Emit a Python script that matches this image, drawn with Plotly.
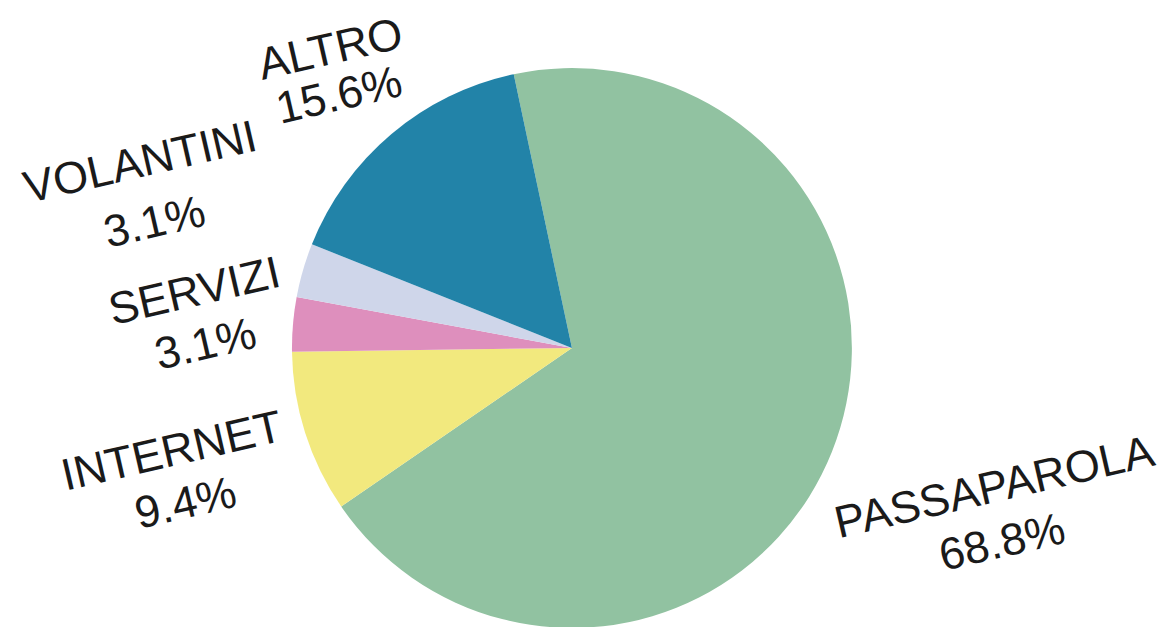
import plotly.graph_objects as go

# data
labels = ["PASSAPAROLA", "INTERNET", "SERVIZI", "VOLANTINI", "ALTRO"]
counts = [22, 3, 1, 1, 5]
colors = ["#91c2a1", "#f2e97e", "#de8fbd", "#cfd6ea", "#2283a8"]
pct_text = ["68.8%", "9.4%", "3.1%", "3.1%", "15.6%"]

# label line centres in pixels (x, y from top): name line, percent line
name_pos = {
    "PASSAPAROLA": (986, 478),
    "INTERNET": (163, 442),
    "SERVIZI": (186, 282),
    "VOLANTINI": (132, 153),
    "ALTRO": (322, 41),
}
pct_pos = {
    "PASSAPAROLA": (994, 533),
    "INTERNET": (177, 494),
    "SERVIZI": (197, 335),
    "VOLANTINI": (146, 213),
    "ALTRO": (331, 86),
}

W, H = 1165, 627
label_font = dict(family="Liberation Sans, Arial, sans-serif", size=45, color="#1a1a1a")

fig = go.Figure(go.Pie(
    labels=labels,
    values=counts,
    sort=False,
    direction="clockwise",
    rotation=-12,
    textinfo="none",
    hoverinfo="label+percent",
    marker=dict(colors=colors, line=dict(width=0)),
    domain=dict(x=[0.2437, 0.7244], y=[0.0112, 0.9042]),
    showlegend=False,
))

annotations = []
for lab, pct in zip(labels, pct_text):
    for txt, (px, py) in ((lab, name_pos[lab]), (pct, pct_pos[lab])):
        annotations.append(dict(
            text=txt,
            x=px / W, y=1 - py / H,
            xref="paper", yref="paper",
            xanchor="center", yanchor="middle",
            showarrow=False,
            textangle=-13,
            font=label_font,
        ))

fig.update_layout(
    width=W, height=H,
    margin=dict(l=0, r=0, t=0, b=0),
    paper_bgcolor="white",
    plot_bgcolor="white",
    annotations=annotations,
)

fig.write_html("out.html")
